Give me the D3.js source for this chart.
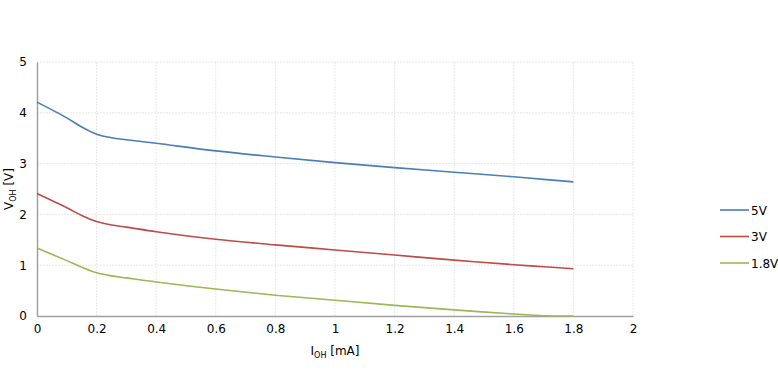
<!DOCTYPE html>
<html>
<head>
<meta charset="utf-8">
<script src="https://cdn.jsdelivr.net/npm/d3@7"></script>
<style>
  body { margin: 0; background: #fff; }
  svg { font-family: "DejaVu Sans", Verdana, sans-serif; }
</style>
</head>
<body>
<div id="chart"></div>
<script>
// current in mA
const current = [0, 0.1, 0.15, 0.2, 0.25, 0.3, 0.4, 0.6, 0.8, 1.0, 1.2, 1.4, 1.6, 1.7, 1.8];
const v5  = [4.21, 3.90, 3.72, 3.58, 3.51, 3.47, 3.40, 3.25, 3.13, 3.02, 2.92, 2.83, 2.74, 2.69, 2.64];
const v3  = [2.41, 2.13, 1.98, 1.86, 1.79, 1.75, 1.66, 1.51, 1.40, 1.30, 1.20, 1.10, 1.01, 0.97, 0.93];
const v18 = [1.34, 1.09, 0.96, 0.85, 0.79, 0.75, 0.67, 0.53, 0.41, 0.31, 0.21, 0.12, 0.04, 0.005, 0.0];
const seriesNames = ["5V", "3V", "1.8V"];
const colors = ["#4a7ebb", "#be4b48", "#98b954"];
const xTicks = [0, 0.2, 0.4, 0.6, 0.8, 1, 1.2, 1.4, 1.6, 1.8, 2];
const yTicks = [0, 1, 2, 3, 4, 5];

const W = 778, H = 376;
const margin = {top: 62, right: 145, bottom: 60, left: 37};
const width = W - margin.left - margin.right;
const height = H - margin.top - margin.bottom;

const svg = d3.select("#chart").append("svg")
    .attr("width", W)
    .attr("height", H);

const g = svg.append("g")
    .attr("transform", "translate(" + margin.left + "," + margin.top + ")");

const x = d3.scaleLinear().domain([0, 2]).range([0, width]);
const y = d3.scaleLinear().domain([0, 5]).range([height, 0]);

// grid
g.append("g").selectAll("line").data(xTicks.slice(1)).join("line")
    .attr("x1", d => x(d)).attr("x2", d => x(d))
    .attr("y1", 0).attr("y2", height)
    .attr("stroke", "#e8e8e8").attr("stroke-dasharray", "2,1");
g.append("g").selectAll("line").data(yTicks.slice(1)).join("line")
    .attr("x1", 0).attr("x2", width)
    .attr("y1", d => y(d)).attr("y2", d => y(d))
    .attr("stroke", "#e8e8e8").attr("stroke-dasharray", "2,1");

// axes
const xAxis = d3.axisBottom(x).tickValues(xTicks).tickSize(0).tickPadding(8)
    .tickFormat(d3.format("~g"));
const yAxis = d3.axisLeft(y).tickValues(yTicks).tickSize(0).tickPadding(10)
    .tickFormat(d3.format("~g"));

const xg = g.append("g").attr("transform", "translate(0," + height + ")").call(xAxis);
const yg = g.append("g").call(yAxis);
[xg, yg].forEach(a => {
    a.select(".domain").attr("stroke", "#a0a0a0").attr("stroke-width", 1.5);
    a.selectAll("text").attr("font-size", 12).attr("fill", "#000")
        .attr("font-family", "DejaVu Sans, Verdana, sans-serif");
});

// lines
const allSeries = [v5, v3, v18];
const line = d3.line()
    .x((d, i) => x(current[i]))
    .y(d => y(d))
    .curve(d3.curveCatmullRom.alpha(0.5));

allSeries.forEach((s, k) => {
    g.append("path")
        .datum(s)
        .attr("d", line)
        .attr("fill", "none")
        .attr("stroke", colors[k])
        .attr("stroke-width", 1.6);
});

// axis titles
const xt = svg.append("text")
    .attr("x", margin.left + x(1))
    .attr("y", 355)
    .attr("font-size", 12)
    .attr("text-anchor", "middle");
xt.append("tspan").text("I");
xt.append("tspan").text("OH").attr("font-size", 8).attr("dy", 3);
xt.append("tspan").text(" [mA]").attr("dy", -3);

const yt = svg.append("text")
    .attr("transform", "translate(13," + (margin.top + y(2.5)) + ") rotate(-90)")
    .attr("font-size", 12)
    .attr("text-anchor", "middle");
yt.append("tspan").text("V");
yt.append("tspan").text("OH").attr("font-size", 8).attr("dy", 3);
yt.append("tspan").text(" [V]").attr("dy", -3);

// legend
const legend = svg.append("g").attr("transform", "translate(720,210)");
seriesNames.forEach((name, k) => {
    const row = legend.append("g").attr("transform", "translate(0," + (k * 26.5) + ")");
    row.append("line").attr("x1", 0).attr("x2", 29).attr("y1", 0).attr("y2", 0)
        .attr("stroke", colors[k]).attr("stroke-width", 1.6);
    row.append("text").attr("x", 31).attr("y", 4.5).attr("font-size", 12).text(name);
});
</script>
</body>
</html>
